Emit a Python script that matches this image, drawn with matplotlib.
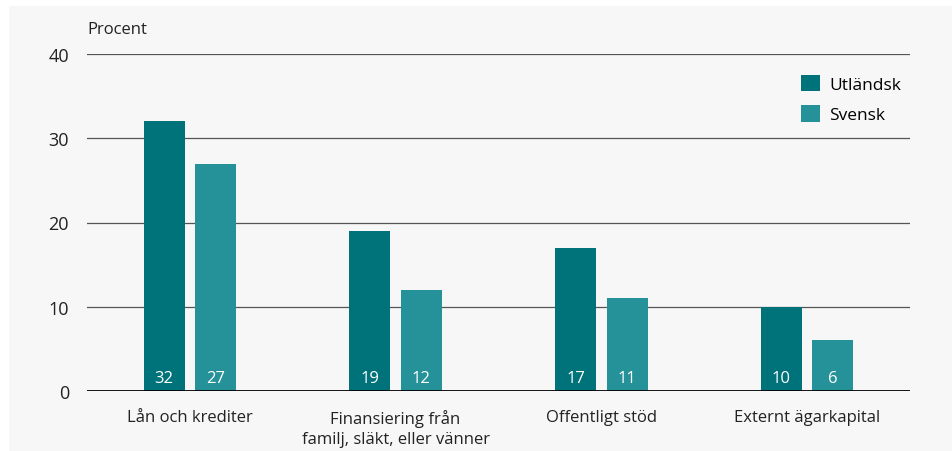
import matplotlib as mpl
mpl.use('Agg')
import matplotlib.pyplot as plt
import numpy as np
from matplotlib.patches import Rectangle

categories = ['Lån och krediter', 'Finansiering från\nfamilj, släkt, eller vänner',
              'Offentligt stöd', 'Externt ägarkapital']
utlandsk = [32, 19, 17, 10]
svensk = [27, 12, 11, 6]
series_names = ['Utländsk', 'Svensk']
colors = ['#00727a', '#25929a']

plt.rcParams['font.family'] = ['Open Sans', 'DejaVu Sans']

fig = plt.figure(figsize=(9.53, 4.52), dpi=100)
fig.patch.set_facecolor('white')
fig.patches.append(Rectangle((9 / 953, 0), 944 / 953, 445 / 452, transform=fig.transFigure,
                             facecolor='#f7f7f7', edgecolor='none', zorder=-10))

ax = fig.add_axes([87 / 953, 60 / 452, 823 / 953, 337 / 452])
ax.set_facecolor('none')

x = np.arange(len(categories))
w = 0.2
b1 = ax.bar(x - 0.125, utlandsk, w, color=colors[0], label=series_names[0], zorder=3)
b2 = ax.bar(x + 0.125, svensk, w, color=colors[1], label=series_names[1], zorder=3)

for bars, vals in [(b1, utlandsk), (b2, svensk)]:
    for rect, v in zip(bars, vals):
        ax.text(rect.get_x() + rect.get_width() / 2, 1.6, str(v), ha='center', va='center',
                color='white', fontsize=12, zorder=4)

ax.set_xlim(-0.5, 3.5)
ax.set_ylim(0, 40)
ax.set_yticks([0, 10, 20, 30, 40])
ax.yaxis.grid(True, color='#555555', linewidth=0.9, zorder=0)
ax.axhline(0, color='black', linewidth=2, zorder=5)
for s in ax.spines.values():
    s.set_visible(False)
ax.tick_params(axis='y', length=0, pad=13, labelsize=13, colors='#222222')
ax.tick_params(axis='x', length=0, pad=13, labelsize=12, colors='#222222')
ax.set_xticks(x)
ax.set_xticklabels(categories, linespacing=1.3)

ax.text(0, 1.05, 'Procent', transform=ax.transAxes, fontsize=12, color='#222222', va='bottom')

leg = ax.legend(loc='upper right', bbox_to_anchor=(1.008, 0.985), frameon=False, fontsize=12.5,
                handlelength=1.1, handleheight=1.1, handletextpad=0.5, labelspacing=0.7)

fig.savefig('out.png', dpi=100, facecolor=fig.get_facecolor())
